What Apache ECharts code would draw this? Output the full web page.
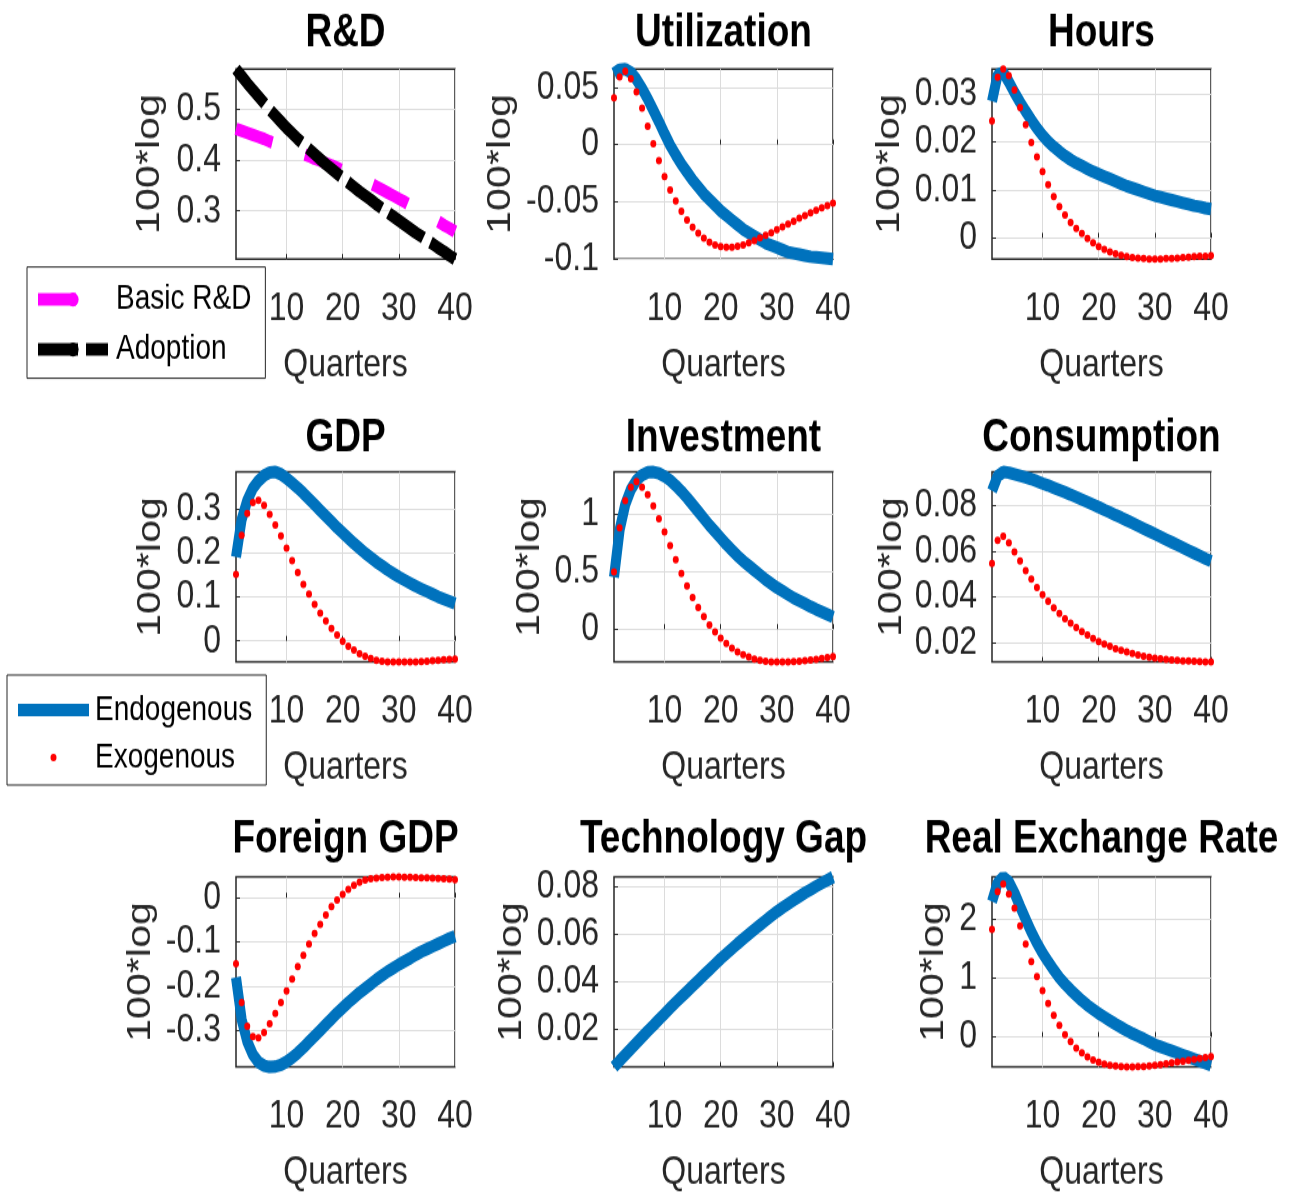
<!DOCTYPE html>
<html>
<head>
<meta charset="utf-8">
<script src="https://cdn.jsdelivr.net/npm/echarts@6/dist/echarts.min.js"></script>
<style>
  html, body { margin: 0; padding: 0; background: #fff; width: 1296px; height: 1193px; }
  /* the reference figure is stretched vertically, so the chart is drawn short and scaled */
  #chart { width: 1296px; height: 955px; transform: scaleY(1.25); transform-origin: 0 0; }
</style>
</head>
<body>
<div id="chart"></div>
<script>
const quarters = [1, 2, 3, 4, 5, 6, 7, 8, 9, 10, 11, 12, 13, 14, 15, 16, 17, 18, 19, 20,
  21, 22, 23, 24, 25, 26, 27, 28, 29, 30, 31, 32, 33, 34, 35, 36, 37, 38, 39, 40];

const rdBasic = [0.462, 0.458, 0.454, 0.450, 0.446, 0.442, 0.437, 0.433, 0.429, 0.425,
  0.421, 0.417, 0.412, 0.408, 0.403, 0.399, 0.394, 0.390, 0.385, 0.380,
  0.375, 0.370, 0.365, 0.359, 0.354, 0.348, 0.342, 0.336, 0.330, 0.324,
  0.318, 0.311, 0.305, 0.298, 0.292, 0.285, 0.279, 0.272, 0.266, 0.259];
const rdAdoption = [0.580, 0.566, 0.552, 0.539, 0.526, 0.513, 0.500, 0.488, 0.476, 0.464,
  0.453, 0.442, 0.432, 0.422, 0.412, 0.402, 0.392, 0.383, 0.374, 0.365,
  0.356, 0.347, 0.338, 0.330, 0.322, 0.313, 0.305, 0.297, 0.289, 0.281,
  0.273, 0.265, 0.257, 0.250, 0.242, 0.235, 0.227, 0.220, 0.212, 0.205];

const utilEndo = [0.062, 0.0655, 0.066, 0.063, 0.057, 0.049, 0.040, 0.030, 0.020, 0.0095,
  -0.0005, -0.009, -0.017, -0.024, -0.031, -0.037, -0.043, -0.048, -0.053, -0.058,
  -0.062, -0.066, -0.070, -0.074, -0.077, -0.080, -0.083, -0.086, -0.088, -0.090,
  -0.092, -0.094, -0.095, -0.096, -0.097, -0.098, -0.0985, -0.099, -0.0995, -0.1];
const utilExo = [0.0408, 0.059, 0.064, 0.0576, 0.046, 0.0317, 0.016, 0.0008, -0.014, -0.0279,
  -0.0396, -0.0494, -0.0584, -0.0659, -0.0723, -0.0775, -0.0818, -0.0853, -0.0877, -0.0891,
  -0.0897, -0.0897, -0.0888, -0.0877, -0.0859, -0.084, -0.0816, -0.0793, -0.077, -0.0744,
  -0.072, -0.0694, -0.067, -0.0644, -0.062, -0.0597, -0.0574, -0.0553, -0.0533, -0.0511];

const hoursEndo = [0.0285, 0.034, 0.0345, 0.0325, 0.0303, 0.0283, 0.0264, 0.0246, 0.0229, 0.0214,
  0.0201, 0.0190, 0.0180, 0.0171, 0.0163, 0.0156, 0.0150, 0.0144, 0.0138, 0.0133,
  0.0128, 0.0123, 0.0118, 0.0113, 0.0108, 0.0104, 0.0100, 0.0096, 0.0092, 0.0088,
  0.0085, 0.0082, 0.0079, 0.0076, 0.0073, 0.0070, 0.0067, 0.0065, 0.0062, 0.0060];
const hoursExo = [0.0244, 0.0335, 0.0352, 0.0338, 0.0308, 0.0272, 0.0236, 0.0199, 0.0169, 0.0138,
  0.0111, 0.0086, 0.0065, 0.0048, 0.0032, 0.0020, 0.0009, -0.0001, -0.0010, -0.0018,
  -0.0024, -0.0029, -0.0033, -0.0036, -0.0039, -0.0041, -0.0042, -0.0043, -0.0044, -0.0044,
  -0.0044, -0.0043, -0.0043, -0.0042, -0.0041, -0.0040, -0.0039, -0.0038, -0.0038, -0.0037];

const gdpEndo = [0.19, 0.275, 0.318, 0.346, 0.363, 0.375, 0.382, 0.383, 0.378, 0.369,
  0.358, 0.347, 0.335, 0.322, 0.309, 0.296, 0.283, 0.270, 0.257, 0.245,
  0.233, 0.221, 0.210, 0.199, 0.189, 0.179, 0.170, 0.161, 0.153, 0.145,
  0.138, 0.131, 0.124, 0.118, 0.112, 0.106, 0.100, 0.095, 0.090, 0.085];
const gdpExo = [0.151, 0.2395, 0.289, 0.3136, 0.319, 0.3076, 0.287, 0.263, 0.238, 0.210,
  0.182, 0.155, 0.128, 0.106, 0.083, 0.063, 0.045, 0.028, 0.013, -0.001,
  -0.012, -0.021, -0.029, -0.035, -0.040, -0.044, -0.046, -0.0475, -0.048, -0.048,
  -0.048, -0.048, -0.0478, -0.047, -0.046, -0.045, -0.044, -0.043, -0.042, -0.041];

const invEndo = [0.45, 0.86, 1.08, 1.21, 1.29, 1.335, 1.36, 1.362, 1.35, 1.325,
  1.29, 1.245, 1.195, 1.14, 1.08, 1.02, 0.96, 0.90, 0.845, 0.79,
  0.735, 0.685, 0.635, 0.59, 0.55, 0.51, 0.47, 0.43, 0.395, 0.36,
  0.33, 0.30, 0.27, 0.245, 0.22, 0.195, 0.172, 0.15, 0.128, 0.105];
const invExo = [0.497, 0.877, 1.115, 1.23, 1.279, 1.23, 1.164, 1.069, 0.957, 0.842,
  0.724, 0.601, 0.483, 0.373, 0.273, 0.187, 0.109, 0.037, -0.023, -0.078,
  -0.123, -0.164, -0.196, -0.221, -0.241, -0.259, -0.270, -0.279, -0.284, -0.285,
  -0.285, -0.284, -0.282, -0.278, -0.273, -0.267, -0.261, -0.254, -0.247, -0.238];

const consEndo = [0.0865, 0.093, 0.0948, 0.0945, 0.0938, 0.0931, 0.0924, 0.0917, 0.0908, 0.0898,
  0.0889, 0.0879, 0.0869, 0.0859, 0.0849, 0.0838, 0.0827, 0.0816, 0.0805, 0.0794,
  0.0782, 0.0771, 0.0759, 0.0748, 0.0736, 0.0724, 0.0712, 0.0700, 0.0688, 0.0676,
  0.0664, 0.0652, 0.0640, 0.0628, 0.0616, 0.0604, 0.0592, 0.0580, 0.0568, 0.0557];
const consExo = [0.0547, 0.0648, 0.0666, 0.0637, 0.0598, 0.0558, 0.0515, 0.0478, 0.0441, 0.0410,
  0.0381, 0.0352, 0.0327, 0.0304, 0.0284, 0.0265, 0.0248, 0.0232, 0.0217, 0.0204,
  0.0193, 0.0183, 0.0172, 0.0165, 0.0158, 0.0151, 0.0145, 0.0139, 0.0135, 0.0131,
  0.0128, 0.0125, 0.0123, 0.0121, 0.0119, 0.0118, 0.0117, 0.0116, 0.0115, 0.0114];

const fgdpEndo = [-0.18, -0.275, -0.325, -0.355, -0.372, -0.380, -0.383, -0.382, -0.378, -0.371,
  -0.362, -0.351, -0.339, -0.326, -0.313, -0.300, -0.287, -0.274, -0.261, -0.249,
  -0.237, -0.226, -0.215, -0.205, -0.195, -0.185, -0.176, -0.167, -0.159, -0.151,
  -0.144, -0.137, -0.129, -0.122, -0.116, -0.110, -0.104, -0.098, -0.092, -0.087];
const fgdpExo = [-0.149, -0.237, -0.291, -0.314, -0.317, -0.305, -0.285, -0.262, -0.237, -0.211,
  -0.184, -0.156, -0.130, -0.105, -0.081, -0.060, -0.039, -0.020, -0.005, 0.008,
  0.019, 0.028, 0.035, 0.040, 0.043, 0.0445, 0.0458, 0.0466, 0.047, 0.047,
  0.0468, 0.0465, 0.046, 0.0455, 0.045, 0.0445, 0.044, 0.043, 0.042, 0.041];

const techEndo = [0.0040, 0.0066, 0.0091, 0.0116, 0.0141, 0.0166, 0.0191, 0.0215, 0.0240, 0.0264,
  0.0288, 0.0312, 0.0335, 0.0358, 0.0381, 0.0404, 0.0427, 0.0450, 0.0473, 0.0496,
  0.0517, 0.0538, 0.0559, 0.0579, 0.0599, 0.0619, 0.0638, 0.0657, 0.0676, 0.0694,
  0.0711, 0.0727, 0.0743, 0.0758, 0.0773, 0.0787, 0.0801, 0.0814, 0.0827, 0.0840];

const rerEndo = [2.30, 2.62, 2.72, 2.64, 2.45, 2.22, 2.00, 1.79, 1.60, 1.43,
  1.28, 1.14, 1.01, 0.90, 0.80, 0.71, 0.62, 0.54, 0.47, 0.40,
  0.34, 0.28, 0.22, 0.165, 0.11, 0.06, 0.015, -0.03, -0.08, -0.13,
  -0.165, -0.20, -0.235, -0.27, -0.305, -0.34, -0.375, -0.41, -0.445, -0.48];
const rerExo = [1.83, 2.47, 2.60, 2.43, 2.19, 1.89, 1.58, 1.28, 1.03, 0.79,
  0.57, 0.37, 0.20, 0.04, -0.08, -0.19, -0.27, -0.34, -0.39, -0.43,
  -0.46, -0.48, -0.49, -0.50, -0.51, -0.51, -0.505, -0.50, -0.49, -0.48,
  -0.47, -0.455, -0.44, -0.425, -0.41, -0.395, -0.38, -0.365, -0.35, -0.335];

// y tick labels per panel
const rdTicks = [0.3, 0.4, 0.5];
const utilTicks = [-0.1, -0.05, 0, 0.05];
const hoursTicks = [0, 0.01, 0.02, 0.03];
const gdpTicks = [0, 0.1, 0.2, 0.3];
const invTicks = [0, 0.5, 1];
const consTicks = [0.02, 0.04, 0.06, 0.08];
const fgdpTicks = [-0.3, -0.2, -0.1, 0];
const techTicks = [0.02, 0.04, 0.06, 0.08];
const rerTicks = [0, 1, 2];

const FONT = '"Liberation Sans", Arial, Helvetica, sans-serif';
const INK = '#262626';
const GRID_LINE = '#dcdcdc';

const panels = [
  { title: 'R&D', lines: [['Basic R&D', rdBasic], ['Adoption', rdAdoption]], ticks: rdTicks, labelGap: 86 },
  { title: 'Utilization', lines: [['Endogenous', utilEndo], ['Exogenous', utilExo]], ticks: utilTicks, labelGap: 113 },
  { title: 'Hours', lines: [['Endogenous', hoursEndo], ['Exogenous', hoursExo]], ticks: hoursTicks, labelGap: 102 },
  { title: 'GDP', lines: [['Endogenous', gdpEndo], ['Exogenous', gdpExo]], ticks: gdpTicks, labelGap: 85 },
  { title: 'Investment', lines: [['Endogenous', invEndo], ['Exogenous', invExo]], ticks: invTicks, labelGap: 84 },
  { title: 'Consumption', lines: [['Endogenous', consEndo], ['Exogenous', consExo]], ticks: consTicks, labelGap: 100 },
  { title: 'Foreign GDP', lines: [['Endogenous', fgdpEndo], ['Exogenous', fgdpExo]], ticks: fgdpTicks, labelGap: 95 },
  { title: 'Technology Gap', lines: [['Endogenous', techEndo]], ticks: techTicks, labelGap: 102 },
  { title: 'Real Exchange Rate', lines: [['Endogenous', rerEndo], ['Exogenous', rerExo]], ticks: rerTicks, labelGap: 58 },
];

const seriesStyle = {
  'Basic R&D': { color: '#ff00ff', width: 10, dash: [38, 34] },
  'Adoption': { color: '#000000', width: 10, dash: [40, 8] },
  'Endogenous': { color: '#0072bd', width: 10 },
  'Exogenous': { color: '#ff0000', dot: 6 },
};

// layout in unscaled px (page is stretched 1.25x vertically)
const colLeft = [236, 614, 992];
const rowTop = [55.2, 377.6, 701.6];
const titleMid = [26.5, 351, 672];
const boxW = 219;
const boxH = 152;

const every10 = (index) => (index + 1) % 10 === 0;
const textBase = { fontFamily: FONT, color: INK, fontSize: 32 };

const grid = [], xAxis = [], yAxis = [], title = [], series = [];

panels.forEach((p, i) => {
  const col = i % 3, row = Math.floor(i / 3);
  grid.push({
    left: colLeft[col], top: rowTop[row], width: boxW, height: boxH,
    show: true, borderColor: INK, borderWidth: 1.5, backgroundColor: '#fff',
    containLabel: false, outerBoundsMode: 'none',
  });
  title.push({
    text: p.title, left: colLeft[col] + boxW / 2, top: titleMid[row],
    textAlign: 'center', textVerticalAlign: 'middle', padding: 0,
    textStyle: { fontFamily: FONT, fontSize: 37, fontWeight: 'bold', color: '#000' },
  });
  xAxis.push({
    type: 'category', gridIndex: i, data: quarters, boundaryGap: false,
    name: 'Quarters', nameLocation: 'middle', nameGap: 85,
    nameTextStyle: { ...textBase, verticalAlign: 'middle' },
    axisLine: { show: false },
    axisTick: { show: true, inside: true, length: 4, interval: every10, lineStyle: { color: INK } },
    axisLabel: { ...textBase, interval: every10, margin: 24 },
    splitLine: { show: true, interval: every10, lineStyle: { color: GRID_LINE, width: 1 } },
  });
  yAxis.push({
    type: 'value', gridIndex: i, min: 'dataMin', max: 'dataMax',
    name: '100*log', nameLocation: 'middle', nameGap: p.labelGap, nameRotate: 90,
    nameTextStyle: { ...textBase, fontSize: 33, verticalAlign: 'middle' },
    axisLine: { show: false },
    axisTick: { show: true, inside: true, length: 4, customValues: p.ticks, lineStyle: { color: INK } },
    axisLabel: { ...textBase, customValues: p.ticks, margin: 15, padding: [5, 0, 0, 0] },
    splitLine: { show: true, lineStyle: { color: GRID_LINE, width: 1 } },
  });
  p.lines.forEach(([name, values]) => {
    const st = seriesStyle[name];
    const base = { name, data: values, xAxisIndex: i, yAxisIndex: i, clip: false, silent: true };
    if (st.dot) {
      series.push({ ...base, type: 'scatter', symbol: 'circle', symbolSize: st.dot,
        itemStyle: { color: st.color, opacity: 1 }, z: 3 });
    } else {
      series.push({ ...base, type: 'line', symbol: 'none',
        lineStyle: { color: st.color, width: st.width, type: st.dash || 'solid', cap: 'butt' },
        itemStyle: { color: st.color }, z: 2 });
    }
  });
});

const legendText = { fontFamily: FONT, fontSize: 28, color: '#000' };

const chart = echarts.init(document.getElementById('chart'), null, { renderer: 'canvas' });
chart.setOption({
  animation: false,
  backgroundColor: '#fff',
  title,
  grid,
  xAxis,
  yAxis,
  legend: [
    {
      data: ['Basic R&D', 'Adoption'], orient: 'vertical', left: 27, top: 213.6,
      itemWidth: 70, itemHeight: 14, itemGap: 12, padding: [12, 14, 9, 6],
      backgroundColor: '#fff', borderColor: INK, borderWidth: 1, selectedMode: false,
      lineStyle: { width: 10, cap: 'butt' }, textStyle: { ...legendText, padding: [0, 0, 0, 3] },
    },
    {
      data: ['Endogenous', 'Exogenous'], orient: 'vertical', left: 7, top: 540,
      itemWidth: 71, itemHeight: 6, itemGap: 10, padding: [14, 14, 8, 6],
      backgroundColor: '#fff', borderColor: INK, borderWidth: 1, selectedMode: false,
      lineStyle: { width: 10, cap: 'butt' }, textStyle: { ...legendText, padding: [0, 0, 0, 1] },
    },
  ],
  series,
});
</script>
</body>
</html>
